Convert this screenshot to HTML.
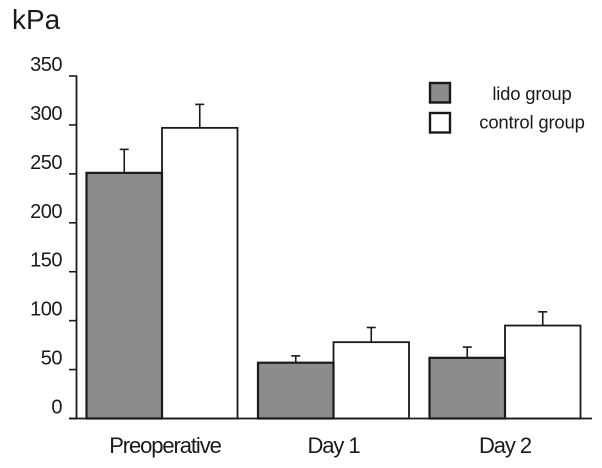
<!DOCTYPE html>
<html>
<head>
<meta charset="utf-8">
<style>
html,body{margin:0;padding:0;background:#fff;width:602px;height:468px;overflow:hidden}
svg{display:block}
text{font-family:"Liberation Sans",Arial,sans-serif;fill:#1a1a1a}
</style>
</head>
<body>
<svg id="chart" width="602" height="468" viewBox="0 0 602 468"></svg>
<script>
const categories = ["Preoperative", "Day 1", "Day 2"];
const lidoValues = [251, 57, 62];
const lidoErrors = [24, 7, 11];
const controlValues = [297, 78, 95];
const controlErrors = [24, 15, 14];
const yTicks = [0, 50, 100, 150, 200, 250, 300, 350];
const seriesNames = ["lido group", "control group"];
const unitLabel = "kPa";

const NS = "http://www.w3.org/2000/svg";
const svg = document.getElementById("chart");
const yScale = v => 418.5 - v * (342.5 / 350);
const xCenter = i => 162 + i * 171.5;
const BAR_W = 75.5;
const INK = "#1a1a1a";

function make(tag, attrs, parent) {
  const el = document.createElementNS(NS, tag);
  for (const k in attrs) el.setAttribute(k, attrs[k]);
  (parent || svg).appendChild(el);
  return el;
}

function drawBar(i, value, error, isLido) {
  const x = isLido ? xCenter(i) - BAR_W : xCenter(i);
  const top = yScale(value);
  const g = make("g", {});
  
  
  const cx = x + BAR_W / 2;
  const errTop = yScale(value + error);
  const stem = make("line", {x1: cx, x2: cx, y1: top, y2: errTop, stroke: INK, "stroke-width": 1.6}, g);
  
  
  const cap = make("line", {x1: cx - 4.5, x2: cx + 4.5, y1: errTop, y2: errTop, stroke: INK, "stroke-width": 1.6}, g);
  
  
  const rect = make("rect", {
    x: x, y: top, width: BAR_W, height: yScale(0) - top,
    fill: isLido ? "#8c8c8c" : "#ffffff",
    stroke: INK, "stroke-width": isLido ? 2.2 : 1.8
  }, g);
  
  
}

categories.forEach((c, i) => {
  drawBar(i, controlValues[i], controlErrors[i], false);
  drawBar(i, lidoValues[i], lidoErrors[i], true);
});

const yAxis = make("line", {x1: 76.5, x2: 76.5, y1: yScale(350), y2: yScale(0), stroke: INK, "stroke-width": 1.8});


const xAxis = make("line", {x1: 69, x2: 592, y1: yScale(0), y2: yScale(0), stroke: INK, "stroke-width": 1.8});



yTicks.forEach(t => {
  const y = yScale(t);
  const tick = make("line", {x1: 69, x2: 77, y1: y, y2: y, stroke: INK, "stroke-width": 1.6});
  
  
  const label = make("text", {x: 62, y: y - 5, "text-anchor": "end", "font-size": 20, "letter-spacing": "-0.5"});
  label.textContent = t;
  
  
});

categories.forEach((c, i) => {
  const label = make("text", {x: xCenter(i) + (i === 0 ? 3 : 0), y: 453, "text-anchor": "middle", "font-size": 22, "letter-spacing": "-1.1"});
  label.textContent = c;
  
  
});

const unit = make("text", {x: 12, y: 29, "font-size": 28});
unit.textContent = unitLabel;



seriesNames.forEach((name, i) => {
  const y = 83 + i * 30;
  const g = make("g", {});
  
  
  const swatch = make("rect", {x: 430, y: y, width: 20, height: 19.5, fill: i === 0 ? "#8c8c8c" : "#ffffff", stroke: INK, "stroke-width": 2.4}, g);
  
  
  const label = make("text", {x: 532, y: y + 17 - i * 1.5, "text-anchor": "middle", "font-size": 18.5, "letter-spacing": "-0.2"}, g);
  label.textContent = name;
  
  
});
</script>
</body>
</html>
